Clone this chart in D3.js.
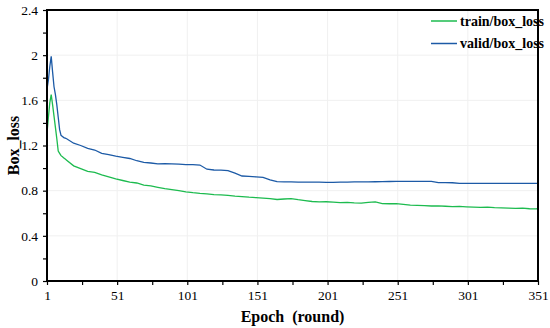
<!DOCTYPE html>
<html>
<head>
<meta charset="utf-8">
<script src="https://cdn.jsdelivr.net/npm/d3@7"></script>
<style>
  body { margin: 0; background: #fff; }
  text { font-family: "Liberation Serif", "Times New Roman", serif; }
</style>
</head>
<body>
<svg id="chart" width="550" height="328"></svg>
<script>
// epochs (dense at the start, every 5 after)
const epochs = [1, 2, 3, 4, 5, 6, 7, 8, 9, 10, 11, 12, 13, 14, 15,
  20, 25, 30, 35, 40, 45, 50, 55, 60, 65, 70, 75, 80, 85, 90, 95, 100,
  105, 110, 115, 120, 125, 130, 135, 140, 145, 150, 155, 160, 165, 170,
  175, 180, 185, 190, 195, 200, 205, 210, 215, 220, 225, 230, 235, 240,
  245, 250, 255, 260, 265, 270, 275, 280, 285, 290, 295, 300, 305, 310,
  315, 320, 325, 330, 335, 340, 345, 350, 351];

const trainLoss = [1.31, 1.45, 1.58, 1.65, 1.56, 1.46, 1.36, 1.26, 1.15, 1.13, 1.11, 1.10, 1.09, 1.08, 1.07,
  1.02, 0.995, 0.97, 0.962, 0.94, 0.922, 0.905, 0.89, 0.875, 0.868, 0.85, 0.842, 0.83, 0.818, 0.81, 0.80, 0.79,
  0.782, 0.776, 0.772, 0.765, 0.762, 0.758, 0.752, 0.748, 0.742, 0.738, 0.734, 0.73, 0.722, 0.726,
  0.73, 0.72, 0.712, 0.704, 0.70, 0.702, 0.698, 0.694, 0.696, 0.692, 0.69, 0.696, 0.70, 0.686,
  0.684, 0.685, 0.678, 0.672, 0.67, 0.668, 0.664, 0.666, 0.662, 0.658, 0.66, 0.657, 0.655, 0.652,
  0.654, 0.65, 0.648, 0.646, 0.644, 0.646, 0.64, 0.638, 0.645];

const validLoss = [1.70, 1.78, 1.90, 1.99, 1.85, 1.72, 1.65, 1.56, 1.45, 1.34, 1.29, 1.28, 1.27, 1.265, 1.26,
  1.22, 1.20, 1.175, 1.16, 1.13, 1.12, 1.105, 1.095, 1.085, 1.065, 1.05, 1.045, 1.038, 1.04, 1.037, 1.035, 1.03,
  1.03, 1.027, 0.99, 0.983, 0.982, 0.978, 0.955, 0.93, 0.926, 0.922, 0.918, 0.895, 0.88, 0.878,
  0.877, 0.876, 0.876, 0.875, 0.875, 0.874, 0.874, 0.875, 0.876, 0.877, 0.878, 0.878, 0.879, 0.88,
  0.881, 0.882, 0.882, 0.883, 0.883, 0.882, 0.882, 0.872, 0.871, 0.87, 0.864, 0.864, 0.864, 0.865,
  0.865, 0.865, 0.865, 0.864, 0.865, 0.865, 0.865, 0.864, 0.864];

const xTicks = [1, 51, 101, 151, 201, 251, 301, 351];
const yTicks = [0, 0.4, 0.8, 1.2, 1.6, 2, 2.4];

const series = [
  { name: 'train/box_loss', values: trainLoss, color: '#1dbb4f' },
  { name: 'valid/box_loss', values: validLoss, color: '#1c5aa6' }
];

const svg = d3.select('#chart');
const margin = { top: 10, right: 12, bottom: 47, left: 47 };
const width = 550 - margin.left - margin.right;
const height = 328 - margin.top - margin.bottom;

const x = d3.scaleLinear().domain([1, 351]).range([0, width]);
const y = d3.scaleLinear().domain([0, 2.4]).range([height, 0]);

const g = svg.append('g').attr('transform', `translate(${margin.left},${margin.top})`);

// faint grid
g.append('g').selectAll('line').data(xTicks.slice(1, -1)).enter().append('line')
  .attr('x1', d => x(d)).attr('x2', d => x(d)).attr('y1', 0).attr('y2', height)
  .attr('stroke', '#f0f0f0').attr('stroke-width', 1);
g.append('g').selectAll('line').data(yTicks.slice(1, -1)).enter().append('line')
  .attr('y1', d => y(d)).attr('y2', d => y(d)).attr('x1', 0).attr('x2', width)
  .attr('stroke', '#f0f0f0').attr('stroke-width', 1);

// lines
const line = d3.line().x((d, i) => x(epochs[i])).y(d => y(d));
series.forEach(s => {
  g.append('path')
    .datum(s.values)
    .attr('d', line)
    .attr('fill', 'none')
    .attr('stroke', s.color)
    .attr('stroke-width', 1.3);
});

// axes
const xAxis = d3.axisBottom(x).tickValues(xTicks).tickSize(4).tickSizeOuter(0).tickPadding(5);
const xMinor = d3.axisBottom(x).tickValues(d3.range(26, 351, 50)).tickSize(4).tickFormat('');
const yAxis = d3.axisLeft(y).tickValues(yTicks).tickSize(4).tickSizeOuter(0).tickPadding(5)
  .tickFormat(d3.format('~g'));
const yMinor = d3.axisLeft(y).tickValues(d3.range(0.2, 2.4, 0.4)).tickSize(4).tickFormat('');

[xAxis, xMinor].forEach(a => {
  g.append('g').attr('class', 'axis').attr('transform', `translate(0,${height})`).call(a);
});
[yAxis, yMinor].forEach(a => {
  g.append('g').attr('class', 'axis').call(a);
});
g.selectAll('.axis .domain').remove();
g.selectAll('.axis line').attr('stroke', '#000').attr('stroke-width', 1.2);
g.selectAll('.axis text').attr('font-size', 13.5).attr('fill', '#000')
  .style('font-family', '"Liberation Serif", serif');

// legend
const legend = g.append('g');
series.forEach((s, i) => {
  const ly = 11 + i * 22.5;
  legend.append('line')
    .attr('x1', 384).attr('x2', 410).attr('y1', ly).attr('y2', ly)
    .attr('stroke', s.color).attr('stroke-width', 1.5);
  legend.append('text')
    .attr('x', 413).attr('y', ly).attr('dy', '0.35em')
    .attr('font-size', 14).attr('font-weight', 'bold')
    .text(s.name);
});

// frame
g.append('rect')
  .attr('x', 0).attr('y', 0).attr('width', width).attr('height', height)
  .attr('fill', 'none').attr('stroke', '#000').attr('stroke-width', 2);

// axis titles
svg.append('text')
  .attr('x', margin.left + width / 2).attr('y', 322)
  .attr('text-anchor', 'middle').attr('font-size', 16).attr('font-weight', 'bold')
  .attr('xml:space', 'preserve')
  .text('Epoch  (round)');

svg.append('text')
  .attr('transform', `translate(19,${margin.top + height / 2}) rotate(-90)`)
  .attr('text-anchor', 'middle').attr('font-size', 16).attr('font-weight', 'bold')
  .text('Box_loss');
</script>
</body>
</html>
